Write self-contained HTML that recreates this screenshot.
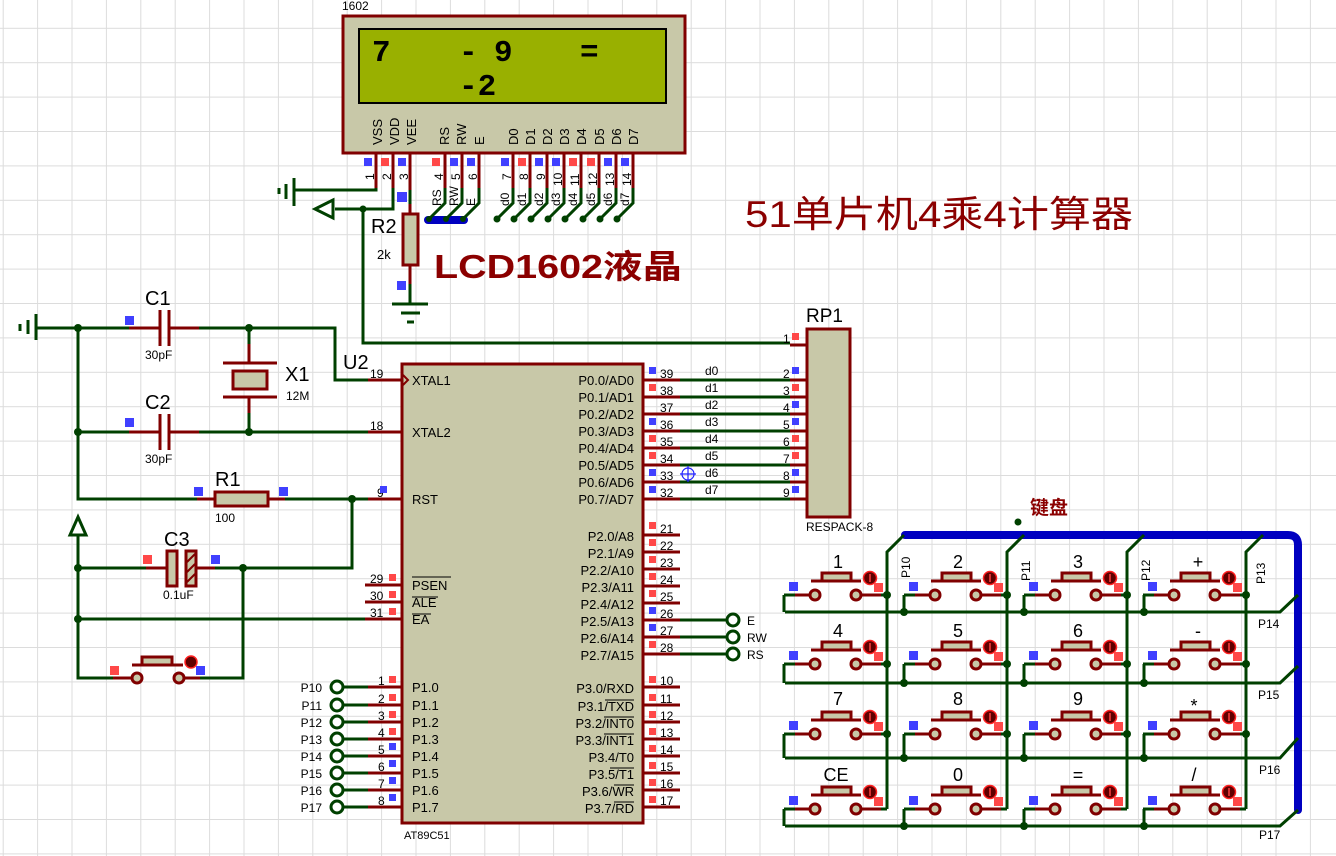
<!DOCTYPE html>
<html><head><meta charset="utf-8"><style>
html,body{margin:0;padding:0;background:#fff;}
svg{display:block;font-family:"Liberation Sans","Noto Sans CJK SC",sans-serif;}
</style></head><body>
<svg width="1336" height="856" viewBox="0 0 1336 856" xmlns="http://www.w3.org/2000/svg">
<defs>
<pattern id="grid" x="2.7" y="27.8" width="34.4" height="34.4" patternUnits="userSpaceOnUse">
<path d="M0 0V34.4M0 0H34.4" stroke="#dcdcdc" stroke-width="2" fill="none"/>
</pattern>
<g id="btn">
<line x1="-6" y1="0" x2="-20" y2="0" stroke="#800000" stroke-width="3"/>
<line x1="-20" y1="0" x2="-31" y2="0" stroke="#004000" stroke-width="3"/>
<line x1="47" y1="0" x2="66" y2="0" stroke="#800000" stroke-width="3"/>
<line x1="66" y1="0" x2="72" y2="0" stroke="#004000" stroke-width="3"/>
<circle cx="0" cy="0" r="5" fill="#c8c8a8" stroke="#800000" stroke-width="3"/>
<circle cx="41" cy="0" r="5" fill="#c8c8a8" stroke="#800000" stroke-width="3"/>
<line x1="-4" y1="-14" x2="46" y2="-14" stroke="#800000" stroke-width="3"/>
<rect x="7" y="-22" width="29" height="8" fill="#c8c8a8" stroke="#800000" stroke-width="3"/>
<circle cx="55" cy="-17" r="6.5" fill="#600000" stroke="#ff2020" stroke-width="1.5"/>
<line x1="55" y1="-21" x2="55" y2="-13" stroke="#ff4040" stroke-width="1.5"/>
<rect x="59" y="-12" width="9" height="9" fill="#ff4848"/>
<rect x="-26" y="-13" width="9" height="9" fill="#4040ff"/>
</g>
</defs>
<rect width="1336" height="856" fill="url(#grid)"/>

<!-- LCD -->
<text x="342" y="10" font-size="12" fill="#000">1602</text>
<rect x="343" y="16" width="342" height="137" fill="#c8c8a8" stroke="#800000" stroke-width="3"/>
<rect x="359" y="29" width="307" height="74" fill="#99b000" stroke="#000" stroke-width="2"/>
<g font-family="Liberation Mono,monospace" font-size="31" font-weight="bold" fill="#000">
<text x="372" y="61">7</text><text x="459" y="61">-</text><text x="494" y="61">9</text><text x="580" y="61">=</text>
<text x="459" y="95">-2</text>
</g>
<g font-size="13" fill="#000">
<text transform="translate(382,145) rotate(-90)">VSS</text>
<text transform="translate(399,145) rotate(-90)">VDD</text>
<text transform="translate(416,145) rotate(-90)">VEE</text>
<text transform="translate(449,145) rotate(-90)">RS</text>
<text transform="translate(466,145) rotate(-90)">RW</text>
<text transform="translate(484,145) rotate(-90)">E</text>
<text transform="translate(518,145) rotate(-90)">D0</text>
<text transform="translate(535,145) rotate(-90)">D1</text>
<text transform="translate(552,145) rotate(-90)">D2</text>
<text transform="translate(569,145) rotate(-90)">D3</text>
<text transform="translate(586,145) rotate(-90)">D4</text>
<text transform="translate(604,145) rotate(-90)">D5</text>
<text transform="translate(621,145) rotate(-90)">D6</text>
<text transform="translate(638,145) rotate(-90)">D7</text>
</g>
<g stroke="#800000" stroke-width="3">
<line x1="376" y1="153" x2="376" y2="188"/><line x1="393" y1="153" x2="393" y2="188"/><line x1="410" y1="153" x2="410" y2="190"/>
<line x1="445" y1="153" x2="445" y2="188"/><line x1="462" y1="153" x2="462" y2="188"/><line x1="479" y1="153" x2="479" y2="188"/>
<line x1="513" y1="153" x2="513" y2="188"/><line x1="530" y1="153" x2="530" y2="188"/><line x1="547" y1="153" x2="547" y2="188"/><line x1="564" y1="153" x2="564" y2="188"/>
<line x1="581" y1="153" x2="581" y2="188"/><line x1="599" y1="153" x2="599" y2="188"/><line x1="616" y1="153" x2="616" y2="188"/><line x1="633" y1="153" x2="633" y2="188"/>
</g>
<g fill="#4040ff"><rect x="364" y="158" width="8" height="8"/><rect x="398" y="158" width="8" height="8"/><rect x="450" y="158" width="8" height="8"/><rect x="467" y="158" width="8" height="8"/>
<rect x="501" y="158" width="8" height="8"/><rect x="535" y="158" width="8" height="8"/><rect x="552" y="158" width="8" height="8"/><rect x="604" y="158" width="8" height="8"/><rect x="621" y="158" width="8" height="8"/>
<rect x="397" y="192" width="10" height="10"/></g>
<g fill="#ff4848"><rect x="381" y="158" width="8" height="8"/><rect x="432" y="158" width="8" height="8"/><rect x="518" y="158" width="8" height="8"/><rect x="569" y="158" width="8" height="8"/><rect x="587" y="158" width="8" height="8"/></g>
<g font-size="12" fill="#000">
<text transform="translate(374,180) rotate(-90)">1</text><text transform="translate(391,180) rotate(-90)">2</text><text transform="translate(408,180) rotate(-90)">3</text>
<text transform="translate(443,180) rotate(-90)">4</text><text transform="translate(460,180) rotate(-90)">5</text><text transform="translate(477,180) rotate(-90)">6</text>
<text transform="translate(511,180) rotate(-90)">7</text><text transform="translate(528,180) rotate(-90)">8</text><text transform="translate(545,180) rotate(-90)">9</text><text transform="translate(562,186) rotate(-90)">10</text>
<text transform="translate(579,186) rotate(-90)">11</text><text transform="translate(597,186) rotate(-90)">12</text><text transform="translate(614,186) rotate(-90)">13</text><text transform="translate(631,186) rotate(-90)">14</text>
<text transform="translate(441,206) rotate(-90)">RS</text><text transform="translate(458,206) rotate(-90)">RW</text><text transform="translate(475,206) rotate(-90)">E</text>
<text transform="translate(509,206) rotate(-90)">d0</text><text transform="translate(526,206) rotate(-90)">d1</text><text transform="translate(543,206) rotate(-90)">d2</text><text transform="translate(560,206) rotate(-90)">d3</text>
<text transform="translate(577,206) rotate(-90)">d4</text><text transform="translate(595,206) rotate(-90)">d5</text><text transform="translate(612,206) rotate(-90)">d6</text><text transform="translate(629,206) rotate(-90)">d7</text>
</g>
<line x1="428" y1="220" x2="464" y2="220" stroke="#0000c0" stroke-width="8" stroke-linecap="round"/>
<g stroke="#004000" stroke-width="3" fill="none">
<path d="M445 188V203L429 219M462 188V203L446 219M479 188V203L463 219"/>
<path d="M513 188V203L497 219M530 188V203L514 219M547 188V203L531 219M564 188V203L548 219M581 188V203L565 219M599 188V203L583 219M616 188V203L600 219M633 188V203L617 219"/>
<path d="M376 188V190H295"/><path d="M294 178V206M286 184V199M279 188V194"/>
<path d="M393 188V209H335"/><path d="M333 200L315 209L333 218Z"/>
<path d="M363 209V343H790"/>
<path d="M410 190V204"/><path d="M410 284V304"/><path d="M392 304H428M401 313H420M407 322H414"/>
</g>
<circle cx="363" cy="209" r="3.5" fill="#004000"/>
<g fill="#004000"><circle cx="429" cy="219" r="3"/><circle cx="446" cy="219" r="3"/><circle cx="463" cy="219" r="3"/>
<circle cx="497" cy="219" r="3.5"/><circle cx="514" cy="219" r="3.5"/><circle cx="531" cy="219" r="3.5"/><circle cx="548" cy="219" r="3.5"/><circle cx="565" cy="219" r="3.5"/><circle cx="583" cy="219" r="3.5"/><circle cx="600" cy="219" r="3.5"/><circle cx="617" cy="219" r="3.5"/></g>
<line x1="410" y1="204" x2="410" y2="284" stroke="#800000" stroke-width="3"/>
<rect x="403" y="214" width="15" height="51" fill="#c8c8a8" stroke="#800000" stroke-width="3"/>
<rect x="397" y="281" width="9" height="9" fill="#4040ff"/>
<text x="371" y="233" font-size="20" fill="#000">R2</text>
<text x="377" y="259" font-size="13" fill="#000">2k</text>
<text x="434" y="278" font-size="33" font-weight="bold" fill="#8b0000" textLength="248" lengthAdjust="spacingAndGlyphs">LCD1602液晶</text>
<text x="745" y="227" font-size="37" fill="#8b0000" textLength="388" lengthAdjust="spacingAndGlyphs">51单片机4乘4计算器</text>

<!-- left oscillator / reset -->
<g stroke="#004000" stroke-width="3" fill="none">
<path d="M36 314V340M28 320V334M20 324V331"/>
<path d="M37 328H129"/><path d="M199 328H335V380H368"/>
<path d="M249 328V344"/><path d="M249 413V432"/>
<path d="M78 328V499H197"/><path d="M78 432H129"/><path d="M199 432H368"/>
<path d="M285 499H368"/><path d="M352 499V568H215"/><path d="M78 568H146"/>
<path d="M78 535V678H113"/><path d="M200 678H243V568"/><path d="M78 619H368"/>
<path d="M78 517L70 535H86Z"/>
</g>
<g fill="#004000"><circle cx="78" cy="328" r="4"/><circle cx="249" cy="328" r="4"/><circle cx="78" cy="432" r="4"/><circle cx="249" cy="432" r="4"/><circle cx="352" cy="499" r="4"/><circle cx="78" cy="568" r="4"/><circle cx="243" cy="568" r="4"/><circle cx="78" cy="619" r="4"/></g>
<g stroke="#800000" stroke-width="3" fill="none">
<path d="M129 328H160M169 328H199M160 310V346M169 310V346"/>
<path d="M129 432H160M169 432H199M160 414V450M169 414V450"/>
<path d="M249 344V363M223 363H277M223 397H277M249 397V413"/>
<path d="M197 499H215M268 499H285"/>
<path d="M146 568H167M196 568H215"/>
<path d="M113 678H131M185 678H200"/>
<path d="M132 665H183"/>
</g>
<rect x="233" y="371" width="34" height="18" fill="#c8c8a8" stroke="#800000" stroke-width="3"/>
<rect x="215" y="492" width="53" height="14" fill="#c8c8a8" stroke="#800000" stroke-width="3"/>
<rect x="167" y="551" width="10" height="35" fill="#c8c8a8" stroke="#800000" stroke-width="3"/>
<rect x="186" y="551" width="10" height="35" fill="#c8c8a8" stroke="#800000" stroke-width="3"/>
<path d="M187 562L195 554M187 572L195 564M187 582L195 574" stroke="#800000" stroke-width="2"/>
<rect x="142" y="657" width="30" height="8" fill="#c8c8a8" stroke="#800000" stroke-width="3"/>
<circle cx="137" cy="678" r="5" fill="#c8c8a8" stroke="#800000" stroke-width="3"/>
<circle cx="179" cy="678" r="5" fill="#c8c8a8" stroke="#800000" stroke-width="3"/>
<circle cx="191" cy="662" r="6" fill="#600000" stroke="#ff2020" stroke-width="1.5"/>
<g fill="#4040ff"><rect x="125" y="316" width="9" height="9"/><rect x="125" y="418" width="9" height="9"/><rect x="194" y="487" width="9" height="9"/><rect x="279" y="487" width="9" height="9"/><rect x="211" y="555" width="9" height="9"/><rect x="196" y="666" width="9" height="9"/></g>
<g fill="#ff4848"><rect x="143" y="555" width="9" height="9"/><rect x="110" y="666" width="9" height="9"/></g>
<g fill="#000">
<text x="145" y="305" font-size="20">C1</text><text x="145" y="359" font-size="12">30pF</text>
<text x="145" y="409" font-size="20">C2</text><text x="145" y="463" font-size="12">30pF</text>
<text x="285" y="381" font-size="20">X1</text><text x="286" y="400" font-size="12">12M</text>
<text x="215" y="486" font-size="20">R1</text><text x="215" y="522" font-size="12">100</text>
<text x="164" y="546" font-size="20">C3</text><text x="163" y="599" font-size="12">0.1uF</text>
<text x="343" y="369" font-size="20">U2</text>
</g>

<!-- MCU -->
<rect x="402" y="364" width="241" height="459" fill="#c8c8a8" stroke="#800000" stroke-width="3"/>
<path d="M403 375L408 380L403 385" stroke="#800000" stroke-width="2" fill="none"/>
<g stroke="#800000" stroke-width="3">
<path d="M368 380H402M368 432H402M368 499H402M365 585H402M365 602H402M365 619H402"/>
<path d="M368 687H402M368 705H402M368 722H402M368 739H402M368 756H402M368 773H402M368 790H402M368 807H402"/>
<path d="M643 380H680M643 397H680M643 414H680M643 431H680M643 448H680M643 465H680M643 482H680M643 499H680"/>
<path d="M643 535H680M643 552H680M643 569H680M643 586H680M643 603H680M643 620H680M643 637H680M643 654H680"/>
<path d="M643 687H680M643 705H680M643 722H680M643 739H680M643 756H680M643 773H680M643 790H680M643 807H680"/>
<path d="M790 345H807M790 380H807M790 397H807M790 414H807M790 431H807M790 448H807M790 465H807M790 482H807M790 499H807"/>
</g>
<g stroke="#004000" stroke-width="3" fill="none">
<path d="M680 380H790M680 397H790M680 414H790M680 431H790M680 448H790M680 465H790M680 482H790M680 499H790"/>
<path d="M680 620H727M680 637H727M680 654H727"/>
<path d="M343 687H368M343 705H368M343 722H368M343 739H368M343 756H368M343 773H368M343 790H368M343 807H368"/>
</g>
<g fill="none" stroke="#004000" stroke-width="3">
<circle cx="733" cy="620" r="6"/><circle cx="733" cy="637" r="6"/><circle cx="733" cy="654" r="6"/>
<circle cx="337" cy="687" r="6"/><circle cx="337" cy="705" r="6"/><circle cx="337" cy="722" r="6"/><circle cx="337" cy="739" r="6"/><circle cx="337" cy="756" r="6"/><circle cx="337" cy="773" r="6"/><circle cx="337" cy="790" r="6"/><circle cx="337" cy="807" r="6"/>
</g>
<circle cx="688" cy="474" r="6" fill="none" stroke="#2020ff" stroke-width="1.2"/><path d="M680 474H696M688 466V482" stroke="#2020ff" stroke-width="1.2"/>
<g font-size="13" fill="#000">
<text x="412" y="385">XTAL1</text><text x="412" y="437">XTAL2</text><text x="412" y="504">RST</text>
<text x="412" y="590">PSEN</text><text x="412" y="607">ALE</text><text x="412" y="624">EA</text>
<text x="412" y="692">P1.0</text><text x="412" y="710">P1.1</text><text x="412" y="727">P1.2</text><text x="412" y="744">P1.3</text><text x="412" y="761">P1.4</text><text x="412" y="778">P1.5</text><text x="412" y="795">P1.6</text><text x="412" y="812">P1.7</text>
</g>
<path d="M412 577H451M412 597H438M412 614H431" stroke="#000" stroke-width="1"/>
<g font-size="13" fill="#000" text-anchor="end">
<text x="634" y="385">P0.0/AD0</text><text x="634" y="402">P0.1/AD1</text><text x="634" y="419">P0.2/AD2</text><text x="634" y="436">P0.3/AD3</text><text x="634" y="453">P0.4/AD4</text><text x="634" y="470">P0.5/AD5</text><text x="634" y="487">P0.6/AD6</text><text x="634" y="504">P0.7/AD7</text>
<text x="634" y="541">P2.0/A8</text><text x="634" y="558">P2.1/A9</text><text x="634" y="575">P2.2/A10</text><text x="634" y="592">P2.3/A11</text><text x="634" y="609">P2.4/A12</text><text x="634" y="626">P2.5/A13</text><text x="634" y="643">P2.6/A14</text><text x="634" y="660">P2.7/A15</text>
<text x="634" y="693">P3.0/RXD</text><text x="634" y="711">P3.1/TXD</text><text x="634" y="728">P3.2/INT0</text><text x="634" y="745">P3.3/INT1</text><text x="634" y="762">P3.4/T0</text><text x="634" y="779">P3.5/T1</text><text x="634" y="796">P3.6/WR</text><text x="634" y="813">P3.7/RD</text>
</g>
<path d="M605 700H634M604 717H634M604 734H634M610 768H634M614 785H634M614 802H634" stroke="#000" stroke-width="1"/>
<g font-size="12" fill="#000">
<text x="370" y="378">19</text><text x="370" y="430">18</text><text x="377" y="497">9</text>
<text x="370" y="583">29</text><text x="370" y="600">30</text><text x="370" y="617">31</text>
<text x="378" y="685">1</text><text x="378" y="703">2</text><text x="378" y="720">3</text><text x="378" y="737">4</text><text x="378" y="754">5</text><text x="378" y="771">6</text><text x="378" y="788">7</text><text x="378" y="805">8</text>
<text x="660" y="378">39</text><text x="660" y="395">38</text><text x="660" y="412">37</text><text x="660" y="429">36</text><text x="660" y="446">35</text><text x="660" y="463">34</text><text x="660" y="480">33</text><text x="660" y="497">32</text>
<text x="660" y="533">21</text><text x="660" y="550">22</text><text x="660" y="567">23</text><text x="660" y="584">24</text><text x="660" y="601">25</text><text x="660" y="618">26</text><text x="660" y="635">27</text><text x="660" y="652">28</text>
<text x="660" y="685">10</text><text x="660" y="703">11</text><text x="660" y="720">12</text><text x="660" y="737">13</text><text x="660" y="754">14</text><text x="660" y="771">15</text><text x="660" y="788">16</text><text x="660" y="805">17</text>
<text x="705" y="375">d0</text><text x="705" y="392">d1</text><text x="705" y="409">d2</text><text x="705" y="426">d3</text><text x="705" y="443">d4</text><text x="705" y="460">d5</text><text x="705" y="477">d6</text><text x="705" y="494">d7</text>
<text x="783" y="343">1</text><text x="783" y="378">2</text><text x="783" y="395">3</text><text x="783" y="412">4</text><text x="783" y="429">5</text><text x="783" y="446">6</text><text x="783" y="463">7</text><text x="783" y="480">8</text><text x="783" y="497">9</text>
<text x="747" y="625">E</text><text x="747" y="642">RW</text><text x="747" y="659">RS</text>
<text x="404" y="839" font-size="11">AT89C51</text>
</g>
<g font-size="12" fill="#000" text-anchor="end">
<text x="322" y="692">P10</text><text x="322" y="710">P11</text><text x="322" y="727">P12</text><text x="322" y="744">P13</text><text x="322" y="761">P14</text><text x="322" y="778">P15</text><text x="322" y="795">P16</text><text x="322" y="812">P17</text>
</g>
<g fill="#4040ff">
<rect x="380" y="486" width="7" height="7"/><rect x="389" y="743" width="7" height="7"/><rect x="389" y="760" width="7" height="7"/><rect x="389" y="777" width="7" height="7"/><rect x="389" y="794" width="7" height="7"/>
<rect x="649" y="367" width="7" height="7"/><rect x="649" y="418" width="7" height="7"/><rect x="649" y="469" width="7" height="7"/><rect x="649" y="486" width="7" height="7"/><rect x="649" y="607" width="7" height="7"/><rect x="649" y="624" width="7" height="7"/>
<rect x="792" y="367" width="7" height="7"/><rect x="792" y="401" width="7" height="7"/><rect x="792" y="418" width="7" height="7"/><rect x="792" y="469" width="7" height="7"/><rect x="792" y="486" width="7" height="7"/>
</g>
<g fill="#ff4848">
<rect x="389" y="574" width="7" height="7"/><rect x="389" y="591" width="7" height="7"/><rect x="389" y="608" width="7" height="7"/>
<rect x="389" y="676" width="7" height="7"/><rect x="389" y="694" width="7" height="7"/><rect x="389" y="711" width="7" height="7"/><rect x="389" y="728" width="7" height="7"/>
<rect x="649" y="384" width="7" height="7"/><rect x="649" y="435" width="7" height="7"/><rect x="649" y="452" width="7" height="7"/>
<rect x="649" y="522" width="7" height="7"/><rect x="649" y="539" width="7" height="7"/><rect x="649" y="556" width="7" height="7"/><rect x="649" y="573" width="7" height="7"/><rect x="649" y="590" width="7" height="7"/><rect x="649" y="641" width="7" height="7"/>
<rect x="649" y="676" width="7" height="7"/><rect x="649" y="694" width="7" height="7"/><rect x="649" y="711" width="7" height="7"/><rect x="649" y="728" width="7" height="7"/><rect x="649" y="745" width="7" height="7"/><rect x="649" y="762" width="7" height="7"/><rect x="649" y="779" width="7" height="7"/><rect x="649" y="796" width="7" height="7"/>
<rect x="792" y="333" width="7" height="7"/><rect x="792" y="384" width="7" height="7"/><rect x="792" y="435" width="7" height="7"/><rect x="792" y="452" width="7" height="7"/>
</g>
<rect x="807" y="329" width="43" height="188" fill="#c8c8a8" stroke="#800000" stroke-width="3"/>
<text x="806" y="322" font-size="19" fill="#000">RP1</text>
<text x="806" y="531" font-size="12" fill="#000">RESPACK-8</text>

<!-- Keypad -->
<path d="M905 535H1288Q1298 535 1298 545V810" stroke="#0000c0" stroke-width="8" fill="none" stroke-linecap="round"/>
<circle cx="1018" cy="522" r="3.5" fill="#004000"/>
<text x="1030" y="514" font-size="19" font-weight="bold" fill="#8b0000">键盘</text>
<g stroke="#004000" stroke-width="3" fill="none">
<path d="M904 535L887 552V809M1024 535L1007 552V809M1144 535L1127 552V809M1263 535L1246 552V809"/>
<path d="M785 612H1280L1298 595M785 683H1280L1298 666M785 758H1280L1298 738M785 826H1280L1298 810"/>
<path d="M784 595V612M904 595V612M1024 595V612M1144 595V612"/>
<path d="M784 664V683M904 664V683M1024 664V683M1144 664V683"/>
<path d="M784 734V758M904 734V758M1024 734V758M1144 734V758"/>
<path d="M784 809V826M904 809V826M1024 809V826M1144 809V826"/>
</g>
<g fill="#004000">
<circle cx="904" cy="612" r="4"/><circle cx="1024" cy="612" r="4"/><circle cx="1144" cy="612" r="4"/>
<circle cx="904" cy="683" r="4"/><circle cx="1024" cy="683" r="4"/><circle cx="1144" cy="683" r="4"/>
<circle cx="904" cy="758" r="4"/><circle cx="1024" cy="758" r="4"/><circle cx="1144" cy="758" r="4"/>
<circle cx="904" cy="826" r="4"/><circle cx="1024" cy="826" r="4"/><circle cx="1144" cy="826" r="4"/>
<circle cx="887" cy="595" r="4"/><circle cx="1007" cy="595" r="4"/><circle cx="1127" cy="595" r="4"/><circle cx="1246" cy="595" r="4"/>
<circle cx="887" cy="664" r="4"/><circle cx="1007" cy="664" r="4"/><circle cx="1127" cy="664" r="4"/><circle cx="1246" cy="664" r="4"/>
<circle cx="887" cy="734" r="4"/><circle cx="1007" cy="734" r="4"/><circle cx="1127" cy="734" r="4"/><circle cx="1246" cy="734" r="4"/>
</g>
<use href="#btn" x="815" y="595"/><use href="#btn" x="935" y="595"/><use href="#btn" x="1055" y="595"/><use href="#btn" x="1174" y="595"/>
<use href="#btn" x="815" y="664"/><use href="#btn" x="935" y="664"/><use href="#btn" x="1055" y="664"/><use href="#btn" x="1174" y="664"/>
<use href="#btn" x="815" y="734"/><use href="#btn" x="935" y="734"/><use href="#btn" x="1055" y="734"/><use href="#btn" x="1174" y="734"/>
<use href="#btn" x="815" y="809"/><use href="#btn" x="935" y="809"/><use href="#btn" x="1055" y="809"/><use href="#btn" x="1174" y="809"/>
<g font-size="18" fill="#000" text-anchor="middle">
<text x="838" y="568">1</text><text x="958" y="568">2</text><text x="1078" y="568">3</text><text x="1198" y="568">+</text>
<text x="838" y="637">4</text><text x="958" y="637">5</text><text x="1078" y="637">6</text><text x="1198" y="637">-</text>
<text x="838" y="705">7</text><text x="958" y="705">8</text><text x="1078" y="705">9</text><text x="1194" y="712">*</text>
<text x="836" y="781">CE</text><text x="958" y="781">0</text><text x="1078" y="781">=</text><text x="1194" y="781">/</text>
</g>
<g font-size="12" fill="#000">
<text transform="translate(910,578) rotate(-90)">P10</text><text transform="translate(1030,581) rotate(-90)">P11</text>
<text transform="translate(1150,581) rotate(-90)">P12</text><text transform="translate(1265,584) rotate(-90)">P13</text>
<text x="1258" y="628">P14</text><text x="1258" y="699">P15</text><text x="1259" y="774">P16</text><text x="1259" y="839">P17</text>
</g>
</svg>
</body></html>
